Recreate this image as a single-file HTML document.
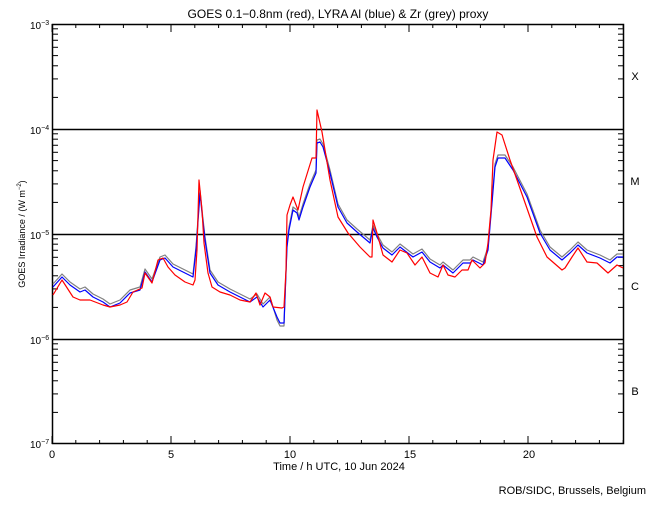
<!DOCTYPE html>
<html><head><meta charset="utf-8"><style>
body{margin:0;background:#fff;}
svg text{font-family:"Liberation Sans",sans-serif;fill:#000;}
</style></head><body>
<svg width="650" height="500" viewBox="0 0 650 500" xmlns="http://www.w3.org/2000/svg">
<rect width="650" height="500" fill="#fff"/>
<text x="338" y="18" font-size="12" text-anchor="middle">GOES 0.1−0.8nm (red), LYRA Al (blue) &amp; Zr (grey) proxy</text>
<g id="ticks" stroke="#000" stroke-width="1"></g>
<rect x="52.5" y="24.5" width="571" height="419" fill="none" stroke="#000" stroke-width="1.5"/>
<g stroke="#000" stroke-width="1.5">
<line x1="52" y1="129.5" x2="624" y2="129.5"/>
<line x1="52" y1="234.5" x2="624" y2="234.5"/>
<line x1="52" y1="339.5" x2="624" y2="339.5"/>
</g>
<g font-size="10">
<text x="30" y="29">10<tspan font-size="7" dy="-4">−3</tspan></text>
<text x="30" y="134">10<tspan font-size="7" dy="-4">−4</tspan></text>
<text x="30" y="239">10<tspan font-size="7" dy="-4">−5</tspan></text>
<text x="30" y="344">10<tspan font-size="7" dy="-4">−6</tspan></text>
<text x="30" y="448">10<tspan font-size="7" dy="-4">−7</tspan></text>
</g>
<g font-size="11" text-anchor="middle">
<text x="52" y="458">0</text><text x="171" y="458">5</text><text x="290" y="458">10</text><text x="410" y="458">15</text><text x="529" y="458">20</text>
<text x="339" y="470">Time / h UTC, 10 Jun 2024</text>
<text x="635" y="80">X</text><text x="635" y="185">M</text><text x="635" y="290">C</text><text x="635" y="395">B</text>
</g>
<text x="646" y="494" font-size="11" text-anchor="end">ROB/SIDC, Brussels, Belgium</text>
<text transform="translate(25,234) rotate(-90)" font-size="9" text-anchor="middle">GOES Irradiance / (W m<tspan font-size="6" dy="-4">−2</tspan><tspan dy="4">)</tspan></text>
<g fill="none" stroke-width="1.2" stroke-linejoin="round">
<polyline id="grey" stroke="#808080"/>
<polyline id="blue" stroke="#0000ff"/>
<polyline id="red" stroke="#ff0000"/>
</g>
</svg>
<script>
var t=document.getElementById('ticks'),s='';
for(var h=0;h<=24;h++){var x=52+h*23.8;var L=(h%5==0)?8:4;
s+='<line x1="'+x+'" y1="444" x2="'+x+'" y2="'+(444-L)+'"/><line x1="'+x+'" y1="24" x2="'+x+'" y2="'+(24+L)+'"/>';}
for(var d=0;d<4;d++){for(var m=2;m<=9;m++){var y=444-105*d-105*Math.log10(m);
s+='<line x1="52" y1="'+y+'" x2="58" y2="'+y+'"/><line x1="624" y1="'+y+'" x2="618" y2="'+y+'"/>';}}
t.innerHTML=s;
var red=[[53,295],[62,280],[73,297],[80,300],[90,300],[103,305],[110,307],[120,305],[127,302],[133,292],[142,288],[145,273],[152,283],[158,260],[163,258],[168,267],[175,275],[185,282],[193,285],[195,280],[197,250],[199,180],[202,210],[204,243],[208,273],[212,287],[220,292],[230,295],[240,300],[250,302],[256,293],[260,305],[265,293],[270,297],[273,307],[282,308],[284,307],[286,270],[287,215],[290,205],[293,197],[298,210],[303,187],[312,158],[316,158],[317,110],[322,132],[330,180],[338,217],[348,233],[360,247],[370,257],[372,257],[373,220],[377,233],[383,255],[392,262],[400,250],[407,253],[415,265],[422,257],[430,273],[438,277],[443,265],[448,275],[455,277],[462,270],[468,270],[472,260],[480,268],[485,263],[488,243],[491,210],[493,160],[497,132],[502,135],[510,160],[523,197],[537,237],[547,257],[562,270],[565,268],[572,257],[578,248],[587,262],[597,263],[608,273],[617,265],[623,268]];
var blue=[[53,287],[62,277],[70,285],[80,292],[85,290],[93,297],[103,302],[110,307],[120,303],[130,293],[140,290],[145,272],[152,282],[160,260],[165,258],[173,267],[183,272],[193,277],[196,250],[200,193],[202,213],[205,240],[210,273],[218,285],[230,292],[240,297],[250,302],[257,297],[263,307],[270,300],[277,317],[280,323],[284,323],[287,247],[289,230],[293,210],[297,213],[299,220],[303,207],[310,187],[316,173],[317,143],[320,142],[323,147],[330,173],[338,207],[347,223],[357,232],[370,243],[373,228],[377,237],[383,248],[392,255],[400,247],[413,257],[422,252],[430,262],[440,268],[443,265],[453,273],[463,263],[470,263],[473,260],[483,265],[488,250],[492,203],[495,167],[498,158],[505,158],[513,170],[527,197],[540,233],[550,250],[562,260],[570,253],[578,245],[587,253],[600,258],[610,263],[617,257],[623,257]];
function pts(a,dy){return a.map(function(p){var o=dy;if(p[0]>=276&&p[0]<=285)o=-dy;return p[0]+','+(p[1]+o);}).join(' ');}
document.getElementById('red').setAttribute('points',pts(red,0));
document.getElementById('blue').setAttribute('points',pts(blue,0));
document.getElementById('grey').setAttribute('points',pts(blue,-3));
</script>
</body></html>
